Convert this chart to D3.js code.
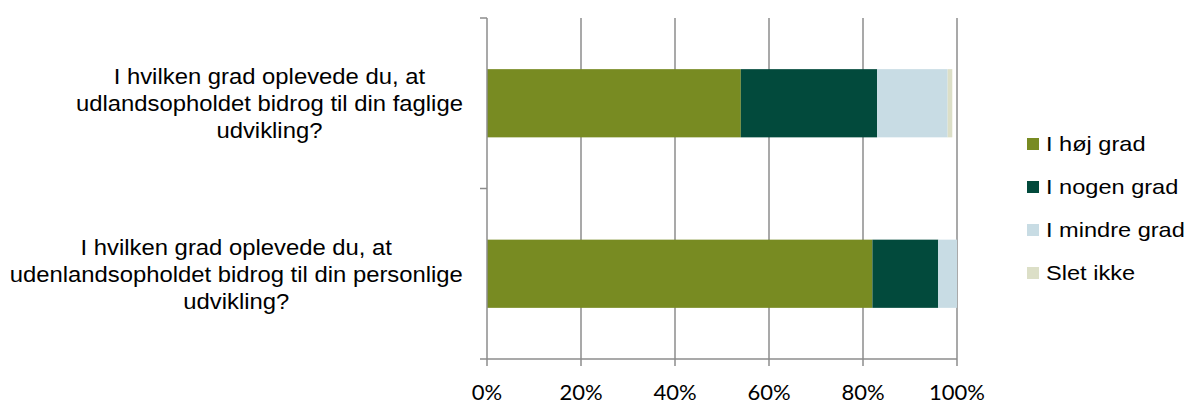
<!DOCTYPE html>
<html>
<head>
<meta charset="utf-8">
<script src="https://cdn.jsdelivr.net/npm/d3@7"></script>
<style>
  html, body { margin: 0; padding: 0; background: #fff; }
  svg { display: block; }
</style>
</head>
<body>
<svg id="chart" width="1190" height="405"></svg>
<script>
// Survey questions (line breaks as they wrap on the category axis)
const categories = [
  "I hvilken grad oplevede du, at\nudlandsopholdet bidrog til din faglige\nudvikling?",
  "I hvilken grad oplevede du, at\nudenlandsopholdet bidrog til din personlige\nudvikling?"
];
// Response options, in stacking order
const seriesNames = ["I høj grad", "I nogen grad", "I mindre grad", "Slet ikke"];
const seriesColors = ["#788b22", "#024a3c", "#c8dce4", "#dcdfc7"];
// Share of answers (%) per question, one array per response option
const hojGrad    = [54, 82];
const nogenGrad  = [29, 14];
const mindreGrad = [15, 4];
const sletIkke   = [1, 0];
const seriesValues = [hojGrad, nogenGrad, mindreGrad, sletIkke];
// Value axis ticks
const xTicks = [0, 20, 40, 60, 80, 100];

const svg = d3.select("#chart");
const plot = { left: 487, right: 957, top: 18, bottom: 359 };

const x = d3.scaleLinear().domain([0, 100]).range([plot.left, plot.right]);
const y = d3.scaleBand().domain(categories).range([plot.top, plot.bottom]).padding(0);
const barFrac = 0.4;

const gridColor = "#8c8c8c";
const textFont = "'Liberation Sans', Arial, sans-serif";

// Vertical gridlines
svg.append("g").selectAll("line").data(xTicks.slice(1)).join("line")
  .attr("x1", d => x(d)).attr("x2", d => x(d))
  .attr("y1", plot.top).attr("y2", plot.bottom)
  .attr("stroke", gridColor).attr("stroke-width", 1.5);

// Stacked bars
const stacked = categories.map((c, i) => {
  let acc = 0;
  return seriesValues.map((vals, s) => {
    const seg = { cat: c, s, x0: acc, x1: acc + vals[i] };
    acc += vals[i];
    return seg;
  });
}).flat().filter(d => d.x1 > d.x0);

svg.append("g").selectAll("rect").data(stacked).join("rect")
  .attr("x", d => x(d.x0))
  .attr("width", d => x(d.x1) - x(d.x0))
  .attr("y", d => y(d.cat) + y.bandwidth() * (1 - barFrac) / 2)
  .attr("height", y.bandwidth() * barFrac)
  .attr("fill", d => seriesColors[d.s]);

// Category axis line with ticks at band boundaries
const yTickPos = categories.map(c => y(c)).concat([plot.bottom]);
svg.append("line")
  .attr("x1", plot.left).attr("x2", plot.left)
  .attr("y1", plot.top).attr("y2", plot.bottom)
  .attr("stroke", gridColor).attr("stroke-width", 1.5);
svg.append("g").selectAll("line").data(yTickPos).join("line")
  .attr("x1", plot.left - 7).attr("x2", plot.left)
  .attr("y1", d => d).attr("y2", d => d)
  .attr("stroke", gridColor).attr("stroke-width", 1.5);

// Value axis line with ticks
svg.append("line")
  .attr("x1", plot.left).attr("x2", plot.right)
  .attr("y1", plot.bottom).attr("y2", plot.bottom)
  .attr("stroke", gridColor).attr("stroke-width", 1.5);
svg.append("g").selectAll("line").data(xTicks).join("line")
  .attr("x1", d => x(d)).attr("x2", d => x(d))
  .attr("y1", plot.bottom).attr("y2", plot.bottom + 7)
  .attr("stroke", gridColor).attr("stroke-width", 1.5);

// Value axis labels
svg.append("g").selectAll("text").data(xTicks).join("text")
  .attr("x", d => x(d))
  .attr("y", 400)
  .attr("text-anchor", "middle")
  .attr("font-family", "Lato, 'Open Sans', sans-serif")
  .attr("font-size", 22)
  .attr("fill", "#000")
  .text(d => d + "%");

// Category labels: block right-aligned near the axis, lines centred in the block
const labelRight = 463;
const lineGap = 27;
const labelStretch = 1.06;
categories.forEach(c => {
  const lines = c.split("\n");
  const t = svg.append("text")
    .attr("font-family", textFont)
    .attr("font-size", 22.5)
    .attr("fill", "#000")
    .attr("text-anchor", "middle");
  const cy = y(c) + y.bandwidth() / 2 + 8;
  const spans = t.selectAll("tspan").data(lines).join("tspan")
    .attr("y", (d, i) => cy + (i - (lines.length - 1) / 2) * lineGap)
    .text(d => d);
  let maxW = 0;
  spans.each(function () { maxW = Math.max(maxW, this.getComputedTextLength()); });
  spans.attr("x", -maxW / 2);
  t.attr("transform", `translate(${labelRight},0) scale(${labelStretch},1)`);
});

// Legend
const legend = svg.append("g");
const legendItems = legend.selectAll("g").data(seriesNames).join("g")
  .attr("transform", (d, i) => `translate(1027, ${138 + i * 43})`);
legendItems.append("rect")
  .attr("width", 12).attr("height", 12)
  .attr("fill", (d, i) => seriesColors[i]);
legendItems.append("text")
  .attr("transform", "translate(19, 13) scale(1.15, 1)")
  .attr("font-family", textFont)
  .attr("font-size", 20.5)
  .attr("fill", "#000")
  .text(d => d);
</script>
</body>
</html>
